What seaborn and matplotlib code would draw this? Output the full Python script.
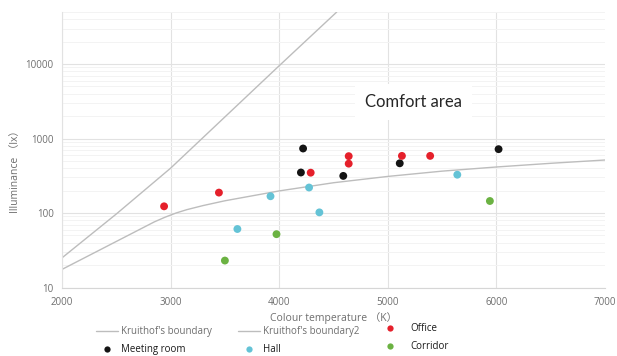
import numpy as np
import pandas as pd
import matplotlib
matplotlib.use("Agg")
import matplotlib.pyplot as plt
import seaborn as sns
from matplotlib.lines import Line2D
from matplotlib.ticker import FixedLocator, LogLocator, NullFormatter, FuncFormatter

# ---------------- data ----------------
boundary1_k = [2000, 2500, 3000, 3500, 4000, 4530]
boundary1_lux = [25, 97, 400, 1950, 9500, 50000]

boundary2_k = [2000, 2850, 2950, 3050, 3150, 3300, 3500,
               4000, 4500, 5000, 5500, 6000, 6500, 7000]
boundary2_lux = [17.5, 76, 88, 100, 111, 126, 146,
                 198, 255, 310, 365, 415, 465, 515]

meeting_k = [4220, 4200, 4590, 5110, 6020]
meeting_lux = [735, 350, 315, 465, 720]

office_k = [2940, 3445, 4290, 4640, 4640, 5130, 5390]
office_lux = [123, 188, 348, 580, 460, 585, 585]

hall_k = [3615, 3920, 4275, 4370, 5640]
hall_lux = [61, 168, 220, 102, 327]

corridor_k = [3500, 3975, 5940]
corridor_lux = [23, 52, 145]

x_ticks = [2000, 3000, 4000, 5000, 6000, 7000]
y_ticks = [10, 100, 1000, 10000]

colors = {
    "Meeting room": "#141414",
    "Office": "#E5202B",
    "Hall": "#64C3D6",
    "Corridor": "#6BB242",
}
line_color = "#BDBDBD"

# ---------------- figure ----------------
sns.set_theme(style="white")
plt.rcParams["font.family"] = ["Open Sans", "Noto Sans CJK SC", "DejaVu Sans"]

fig = plt.figure(figsize=(6.17, 3.56), dpi=100)
ax = fig.add_axes([62 / 617, 1 - 287.5 / 356, 543 / 617, 275.5 / 356])

b1 = pd.DataFrame({"K": boundary1_k, "lux": boundary1_lux})
b2 = pd.DataFrame({"K": boundary2_k, "lux": boundary2_lux})
sns.lineplot(data=b1, x="K", y="lux", ax=ax, color=line_color, lw=1.0,
             estimator=None, sort=False, zorder=2)
sns.lineplot(data=b2, x="K", y="lux", ax=ax, color=line_color, lw=1.0,
             estimator=None, sort=False, zorder=2)

pts = pd.concat([
    pd.DataFrame({"K": meeting_k, "lux": meeting_lux, "room": "Meeting room"}),
    pd.DataFrame({"K": office_k, "lux": office_lux, "room": "Office"}),
    pd.DataFrame({"K": hall_k, "lux": hall_lux, "room": "Hall"}),
    pd.DataFrame({"K": corridor_k, "lux": corridor_lux, "room": "Corridor"}),
], ignore_index=True)
sns.scatterplot(data=pts, x="K", y="lux", hue="room", palette=colors, s=32,
                edgecolor="none", linewidth=0, legend=False, ax=ax, zorder=3)

ax.set_yscale("log")
ax.set_xlim(2000, 7000)
ax.set_ylim(10, 50000)
ax.xaxis.set_major_locator(FixedLocator(x_ticks))
ax.yaxis.set_major_locator(FixedLocator(y_ticks))
ax.yaxis.set_major_formatter(FuncFormatter(lambda v, p: f"{int(round(v))}"))
ax.yaxis.set_minor_locator(LogLocator(base=10, subs=np.arange(2, 10)))
ax.yaxis.set_minor_formatter(NullFormatter())

ax.grid(True, which="major", axis="both", color="#E2E2E2", lw=0.8, zorder=0)
ax.grid(True, which="minor", axis="y", color="#F3F3F3", lw=0.7, zorder=0)
ax.set_axisbelow(True)
xgl = ax.get_xgridlines()
if xgl:
    xgl[-1].set_visible(False)

for s in ["top", "right"]:
    ax.spines[s].set_visible(False)
ax.spines["left"].set_color("#E2E2E2")
ax.spines["bottom"].set_color("#D6D6D6")
ax.spines["left"].set_linewidth(0.8)
ax.spines["bottom"].set_linewidth(0.8)

ax.tick_params(axis="both", which="both", length=0, labelsize=7, labelcolor="#6E6E6E")
ax.tick_params(axis="x", pad=7)
ax.tick_params(axis="y", pad=6)

ax.set_xlabel("Colour temperature （K）", fontsize=7.5, color="#6E6E6E", labelpad=3)
ax.set_ylabel("Illuminance （lx）", fontsize=7.5, color="#6E6E6E")
ax.yaxis.set_label_coords(-0.075, 0.43)

ax.text(5240, 3140, "Comfort area", fontsize=12, color="#262626",
        family=["Lato", "DejaVu Sans"], ha="center", va="center", zorder=4,
        bbox=dict(boxstyle="square,pad=0.6", facecolor="white", edgecolor="none"))

# ---------------- legends ----------------
def line_h():
    return Line2D([], [], color=line_color, lw=1.0)

def dot_h(c):
    return Line2D([], [], color=c, marker="o", linestyle="none", markersize=4.5,
                  markeredgewidth=0)

common = dict(frameon=False, borderpad=0, borderaxespad=0, fontsize=7,
              labelspacing=0.75, loc="upper left")

lg1 = fig.legend([line_h(), dot_h(colors["Meeting room"])],
                 ["Kruithof's boundary", "Meeting room"],
                 bbox_to_anchor=(96 / 617, 1 - 326 / 356),
                 handlelength=2.3, handletextpad=0.3, **common)
lg2 = fig.legend([line_h(), dot_h(colors["Hall"])],
                 ["Kruithof's boundary2", "Hall"],
                 bbox_to_anchor=(238 / 617, 1 - 326 / 356),
                 handlelength=2.3, handletextpad=0.3, **common)
lg3 = fig.legend([dot_h(colors["Office"]), dot_h(colors["Corridor"])],
                 ["Office", "Corridor"],
                 bbox_to_anchor=(385 / 617, 1 - 323 / 356),
                 handlelength=1.0, handletextpad=1.6, **common)
for lg in (lg1, lg2):
    texts = lg.get_texts()
    texts[0].set_color("#6E6E6E")
    texts[1].set_color("#1A1A1A")
for t in lg3.get_texts():
    t.set_color("#1A1A1A")

fig.savefig("out.png", dpi=100)
